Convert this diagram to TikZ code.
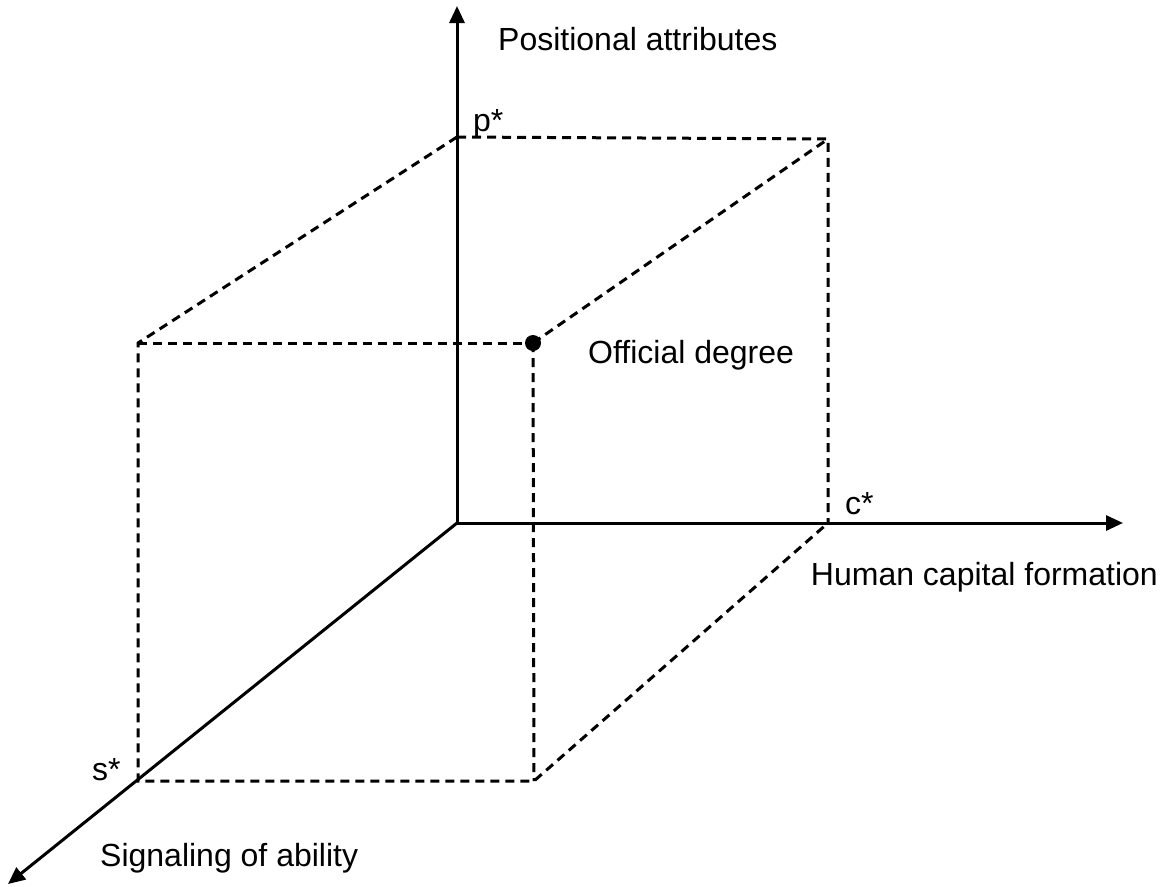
\documentclass[tikz,border=0pt]{standalone}
\usepackage{fontspec}
\setmainfont{Liberation Sans}
\usetikzlibrary{arrows.meta}
\begin{document}
\begin{tikzpicture}[x=1pt,y=-1pt,
  axis/.style={line width=3pt,-{Triangle[length=17pt,width=15pt]}},
  guide/.style={line width=3pt,dash pattern=on 9pt off 6pt},
  lbl/.style={inner sep=0pt,font=\fontsize{32}{38}\selectfont}]
\useasboundingbox (0,0) rectangle (1175,886);
% points
\coordinate (O) at (457,523);
\coordinate (P) at (457,137);
\coordinate (C) at (828,523);
\coordinate (S) at (138,781);
\coordinate (TL) at (138,343);
\coordinate (TR) at (828,139);
\coordinate (BR) at (534,781);
\coordinate (Yend) at (457,6);
\coordinate (Xend) at (1123,523);
\coordinate (Zend) at (8,884);
% axes
\draw[axis] (O) -- (Yend);
\draw[axis] (O) -- (Xend);
\draw[axis] (O) -- (Zend);
% dashed box
\draw[guide] (P) -- (TR) -- (C);
\draw[guide] (P) -- (TL) -- (S) -- (BR) -- (C);
\node[circle,fill=black,inner sep=0pt,minimum size=16pt] (D) at (533,343) {};
\draw[guide] (TL) -- (D.center);
\draw[guide] (D.center) -- (TR);
\draw[guide] (D.center) -- (BR);
% labels
\node[lbl,anchor=base west] (ly) at (498,50) {Positional attributes};
\node[lbl,anchor=base west] (lp) at (473,131) {p*};
\node[lbl,anchor=base west] (lc) at (845,514) {c*};
\node[lbl,anchor=base west] (ls) at (92,780) {s*};
\node[lbl,anchor=base west] (ld) at (588,363) {Official degree};
\node[lbl,anchor=base east] (lx) at (1158,585) {Human capital formation};
\node[lbl,anchor=base west] (lz) at (100,866) {Signaling of ability};
\end{tikzpicture}
\end{document}
